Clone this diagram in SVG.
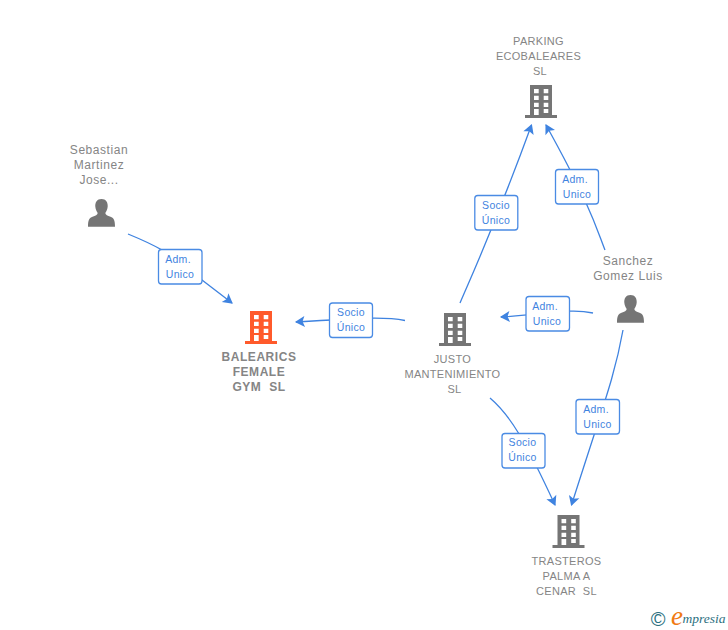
<svg xmlns="http://www.w3.org/2000/svg" width="728" height="630" viewBox="0 0 728 630">
<style>
.lbl{font:12px "Liberation Sans",Arial,sans-serif;fill:#858585;text-anchor:middle;letter-spacing:.55px;white-space:pre}
.cap{font-size:11px;letter-spacing:.3px}
.b{font-weight:bold;font-size:12px;letter-spacing:.55px}
.box{fill:#fff;stroke:#4a8be4;stroke-width:1.3}
.bt{font:10.5px "Liberation Sans",Arial,sans-serif;fill:#3f83e0;text-anchor:middle;letter-spacing:.3px}
.c{fill:none;stroke:#3f83e0;stroke-width:1.3;marker-end:url(#a)}
</style>
<defs>
<marker id="a" markerUnits="userSpaceOnUse" markerWidth="12" markerHeight="12" refX="9" refY="5.500" orient="auto" viewBox="0 0 11 11"><path d="M10 5.500L1 0.500L3 5.500L1 10.500Z" fill="#3f83e0"/></marker>
<symbol id="bld" overflow="visible"><path fill-rule="evenodd" d="M-11 0H11V30H16V33H-16V30H-11ZM-7 4V8.300H-2.300V4ZM2.700 4V8.300H7.300V4ZM-7 10.700V15H-2.300V10.700ZM2.700 10.700V15H7.300V10.700ZM-7 17.700V22H-2.300V17.700ZM2.700 17.700V22H7.300V17.700ZM-7 24V30H-2.300V24ZM2.700 24V28H7.300V24Z"/></symbol>
<symbol id="per" overflow="visible"><path d="M0 0C4.500 0 6.500 3.500 6.200 7.500C6 10.500 4.800 12.500 3.800 14C4 16 6 16.500 9 17.700C12 18.800 13.500 20.500 13.500 27.700H-13.500C-13.500 20.500 -12 18.800 -9 17.700C-6 16.500 -4 16 -3.800 14C-4.800 12.500 -6 10.500 -6.200 7.500C-6.500 3.500 -4.500 0 0 0Z"/></symbol>
</defs>
<g id="connectors">
<path class="c" d="M128 234C150 243 175 254 202 280L232 303"/>
<path class="c" d="M405 320.500C385 316.500 360 318 296 322"/>
<path class="c" d="M460 303C475 268 495 225 531.500 125"/>
<path class="c" d="M605 250C597 230 592 208 546 125"/>
<path class="c" d="M593 313C570 308 550 314 501 317"/>
<path class="c" d="M623 330C615 375 605 400 571.500 505"/>
<path class="c" d="M490 398C510 415 525 440 555 505"/>
</g>
<g id="n-sebastian"><use href="#per" x="101.500" y="199" fill="#757575"/><text class="lbl"><tspan x="99" y="154">Sebastian</tspan><tspan x="99" y="169">Martinez</tspan><tspan x="99" y="184">Jose...</tspan></text></g>
<g id="n-balearics"><use href="#bld" x="261" y="311" fill="#ff5a2b"/><text class="lbl b"><tspan x="259" y="361">BALEARICS</tspan><tspan x="259" y="376">FEMALE</tspan><tspan x="259" y="391">GYM  SL</tspan></text></g>
<g id="n-parking"><use href="#bld" x="541" y="85" fill="#757575"/><text class="lbl cap"><tspan x="538.500" y="45">PARKING</tspan><tspan x="538.500" y="60">ECOBALEARES</tspan><tspan x="540" y="75">SL</tspan></text></g>
<g id="n-justo"><use href="#bld" x="455" y="313" fill="#757575"/><text class="lbl cap"><tspan x="452.500" y="363">JUSTO</tspan><tspan x="452.500" y="378">MANTENIMIENTO</tspan><tspan x="454.500" y="393">SL</tspan></text></g>
<g id="n-sanchez"><use href="#per" x="630.500" y="295" fill="#757575"/><text class="lbl"><tspan x="628" y="265">Sanchez</tspan><tspan x="628" y="280">Gomez Luis</tspan></text></g>
<g id="n-trasteros"><use href="#bld" x="568.500" y="515" fill="#757575"/><text class="lbl cap"><tspan x="566.500" y="565">TRASTEROS</tspan><tspan x="566.500" y="580">PALMA A</tspan><tspan x="566.500" y="595">CENAR  SL</tspan></text></g>
<g id="l1"><rect class="box" x="158.500" y="249.500" width="43.500" height="34.500" rx="3"/><text class="bt"><tspan x="178" y="263">Adm.</tspan><tspan x="180" y="278">Unico</tspan></text></g>
<g id="l2"><rect class="box" x="329.500" y="303" width="43" height="34.500" rx="3"/><text class="bt"><tspan x="351" y="316">Socio</tspan><tspan x="351" y="331">Único</tspan></text></g>
<g id="l3"><rect class="box" x="474.800" y="195.500" width="43" height="34.500" rx="3"/><text class="bt"><tspan x="496" y="209">Socio</tspan><tspan x="496" y="224">Único</tspan></text></g>
<g id="l4"><rect class="box" x="555.500" y="169.500" width="43" height="34.500" rx="3"/><text class="bt"><tspan x="575" y="183">Adm.</tspan><tspan x="577" y="198">Unico</tspan></text></g>
<g id="l5"><rect class="box" x="526" y="296.500" width="43.500" height="34.500" rx="3"/><text class="bt"><tspan x="545" y="310">Adm.</tspan><tspan x="547" y="325">Unico</tspan></text></g>
<g id="l6"><rect class="box" x="576" y="399.500" width="43.500" height="34.500" rx="3"/><text class="bt"><tspan x="596" y="413">Adm.</tspan><tspan x="597.500" y="428">Unico</tspan></text></g>
<g id="l7"><rect class="box" x="502" y="433.500" width="43" height="34.500" rx="3"/><text class="bt"><tspan x="522.500" y="446">Socio</tspan><tspan x="522.500" y="461">Único</tspan></text></g>
<g id="logo"><text x="658" y="626" font-family="'Liberation Sans',sans-serif" font-size="20" fill="#2b7080" text-anchor="middle">©</text><text x="671" y="625" font-family="'Liberation Serif',serif" font-size="27" font-style="italic" fill="#f07a13">e</text><text x="682.500" y="623" font-family="'Liberation Serif',serif" font-size="13.500" font-style="italic" fill="#2b7080">mpresia</text></g>
</svg>
